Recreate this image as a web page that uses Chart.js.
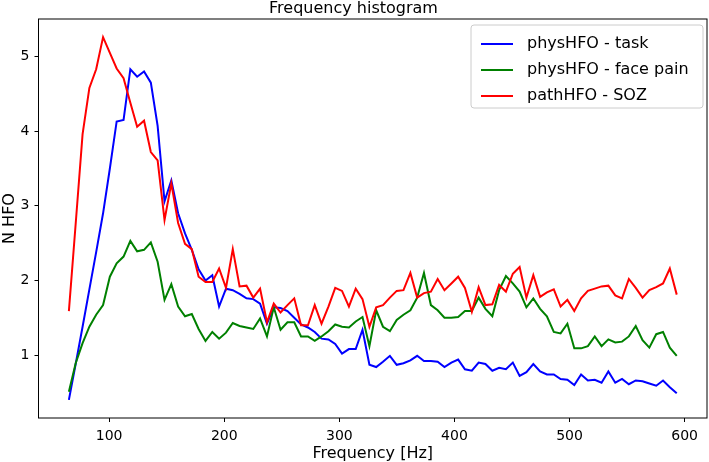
<!DOCTYPE html>
<html>
<head>
<meta charset="utf-8">
<script src="https://cdn.jsdelivr.net/npm/chart.js@4.4.1/dist/chart.umd.min.js"></script>
<style>
  html, body { margin: 0; padding: 0; background: #fff; }
  canvas { display: block; }
</style>
</head>
<body>
<canvas id="c" width="709" height="462"></canvas>
<script>
// bin centres (Hz)
const freqHz = [65.0,70.9,76.9,82.8,88.7,94.7,100.6,106.5,112.5,118.4,124.3,130.3,136.2,142.1,148.1,154.0,159.9,165.9,171.8,177.7,
  183.7,189.6,195.5,201.5,207.4,213.3,219.3,225.2,231.1,237.1,243.0,248.9,254.9,260.8,266.7,272.7,278.6,284.5,290.5,296.4,
  302.3,308.3,314.2,320.1,326.1,332.0,337.9,343.9,349.8,355.7,361.7,367.6,373.5,379.5,385.4,391.3,397.3,403.2,409.1,415.1,
  421.0,426.9,432.9,438.8,444.7,450.7,456.6,462.5,468.5,474.4,480.3,486.3,492.2,498.1,504.1,510.0,515.9,521.9,527.8,533.7,
  539.7,545.6,551.5,557.5,563.4,569.3,575.3,581.2,587.1,593.1];

const physTask = [0.40,0.88,1.38,1.88,2.38,2.90,3.50,4.13,4.15,4.83,4.73,4.80,4.65,4.07,3.06,3.34,2.90,2.63,2.41,2.15,
  2.00,2.07,1.65,1.89,1.87,1.82,1.76,1.75,1.69,1.42,1.64,1.63,1.59,1.50,1.41,1.37,1.31,1.22,1.21,1.15,
  1.02,1.08,1.08,1.34,0.87,0.84,0.91,0.99,0.87,0.89,0.93,0.99,0.92,0.92,0.91,0.84,0.90,0.94,0.81,0.79,
  0.90,0.88,0.79,0.83,0.81,0.90,0.72,0.77,0.88,0.78,0.74,0.74,0.68,0.67,0.60,0.74,0.66,0.67,0.63,0.78,
  0.63,0.68,0.61,0.66,0.65,0.62,0.59,0.66,0.57,0.49];

const physFacePain = [0.51,0.89,1.16,1.38,1.54,1.67,2.05,2.23,2.32,2.53,2.39,2.41,2.51,2.25,1.74,1.95,1.65,1.52,1.55,1.35,
  1.19,1.31,1.22,1.30,1.43,1.39,1.37,1.35,1.49,1.25,1.64,1.34,1.44,1.44,1.25,1.25,1.19,1.25,1.32,1.41,
  1.38,1.37,1.45,1.51,1.12,1.60,1.38,1.32,1.47,1.54,1.60,1.77,2.10,1.67,1.60,1.50,1.50,1.51,1.59,1.59,
  1.77,1.62,1.52,1.87,2.06,1.96,1.85,1.64,1.76,1.62,1.52,1.31,1.29,1.42,1.09,1.09,1.12,1.25,1.12,1.21,
  1.17,1.18,1.25,1.39,1.20,1.10,1.28,1.31,1.10,0.99];

const pathSoz = [1.59,2.76,3.96,4.58,4.83,5.26,5.05,4.84,4.71,4.38,4.06,4.14,3.72,3.61,2.81,3.30,2.77,2.49,2.42,2.05,
  1.98,1.98,2.16,1.90,2.42,1.92,1.93,1.77,1.89,1.44,1.69,1.57,1.67,1.76,1.40,1.40,1.67,1.42,1.65,1.90,
  1.86,1.65,1.89,1.75,1.38,1.64,1.67,1.77,1.86,1.87,2.10,1.77,1.83,1.85,2.02,1.87,1.96,2.05,1.90,1.58,
  1.91,1.67,1.68,1.94,1.85,2.09,2.18,1.77,2.07,1.78,1.84,1.88,1.65,1.74,1.59,1.76,1.86,1.89,1.92,1.93,
  1.80,1.76,2.02,1.90,1.77,1.87,1.91,1.96,2.16,1.81];

const seriesLabels = ['physHFO - task', 'physHFO - face pain', 'pathHFO - SOZ'];
const seriesColors = ['#0000ff', '#008000', '#ff0000'];
const xTicks = [100, 200, 300, 400, 500, 600];
const yTicks = [1, 2, 3, 4, 5];

const FONT = "'DejaVu Sans', 'Liberation Sans', sans-serif";
const pts = ys => ys.map((y, i) => ({x: freqHz[i], y: y}));

// matplotlib-style box + legend inside the axes
const frameAndLegend = {
  id: 'frameAndLegend',
  afterDraw(chart) {
    const {ctx, chartArea: a} = chart;
    ctx.save();
    ctx.strokeStyle = '#000';
    ctx.lineWidth = 1;
    ctx.strokeRect(a.left, a.top, a.right - a.left, a.bottom - a.top);

    const bx = 471, by = 25, bw = 232, bh = 83, r = 3;
    ctx.beginPath();
    ctx.moveTo(bx + r, by);
    ctx.arcTo(bx + bw, by, bx + bw, by + bh, r);
    ctx.arcTo(bx + bw, by + bh, bx, by + bh, r);
    ctx.arcTo(bx, by + bh, bx, by, r);
    ctx.arcTo(bx, by, bx + bw, by, r);
    ctx.closePath();
    ctx.fillStyle = 'rgba(255,255,255,0.8)';
    ctx.fill();
    ctx.strokeStyle = '#cccccc';
    ctx.stroke();

    ctx.font = '16px ' + FONT;
    ctx.textBaseline = 'middle';
    ctx.fillStyle = '#000';
    chart.data.datasets.forEach((ds, i) => {
      const y = 44 + 26 * i;
      ctx.beginPath();
      ctx.moveTo(481, y);
      ctx.lineTo(513, y);
      ctx.strokeStyle = ds.borderColor;
      ctx.lineWidth = 2;
      ctx.stroke();
      ctx.fillText(ds.label, 527, y);
    });
    ctx.restore();
  }
};

new Chart(document.getElementById('c'), {
  type: 'line',
  data: {
    datasets: [
      {label: seriesLabels[0], data: pts(physTask), borderColor: seriesColors[0], order: 3},
      {label: seriesLabels[1], data: pts(physFacePain), borderColor: seriesColors[1], order: 2},
      {label: seriesLabels[2], data: pts(pathSoz), borderColor: seriesColors[2], order: 1}
    ]
  },
  options: {
    responsive: false,
    animation: false,
    devicePixelRatio: 1,
    layout: {padding: {left: 0, right: 2, top: 0, bottom: 0}},
    elements: {
      line: {borderWidth: 2, tension: 0, fill: false},
      point: {radius: 0, hoverRadius: 0}
    },
    plugins: {
      legend: {display: false},
      tooltip: {enabled: false},
      title: {
        display: true,
        text: 'Frequency histogram',
        color: '#000',
        font: {family: FONT, size: 16, weight: 'normal', lineHeight: 1},
        padding: {top: 1, bottom: 2}
      }
    },
    scales: {
      x: {
        type: 'linear',
        min: 38.6,
        max: 619.4,
        afterBuildTicks: s => { s.ticks = xTicks.map(v => ({value: v})); },
        afterFit: s => { s.height = 44; },
        grid: {drawOnChartArea: false, drawTicks: true, tickLength: 4, color: '#000'},
        border: {display: false},
        ticks: {color: '#000', padding: 6, maxRotation: 0, font: {family: FONT, size: 14}, callback: v => String(v)},
        title: {display: true, text: 'Frequency [Hz]', color: '#000', font: {family: FONT, size: 16, lineHeight: 1}, padding: {top: 0, bottom: 0}}
      },
      y: {
        type: 'linear',
        min: 0.157,
        max: 5.503,
        afterBuildTicks: s => { s.ticks = yTicks.map(v => ({value: v})); },
        afterFit: s => { s.width = 38.5; },
        grid: {drawOnChartArea: false, drawTicks: true, tickLength: 4, color: '#000'},
        border: {display: false},
        ticks: {color: '#000', padding: 5, font: {family: FONT, size: 14}, callback: v => String(v)},
        title: {display: true, text: 'N HFO', color: '#000', font: {family: FONT, size: 16, lineHeight: 1}, padding: {top: 2, bottom: 0}}
      }
    }
  },
  plugins: [frameAndLegend]
});
</script>
</body>
</html>
